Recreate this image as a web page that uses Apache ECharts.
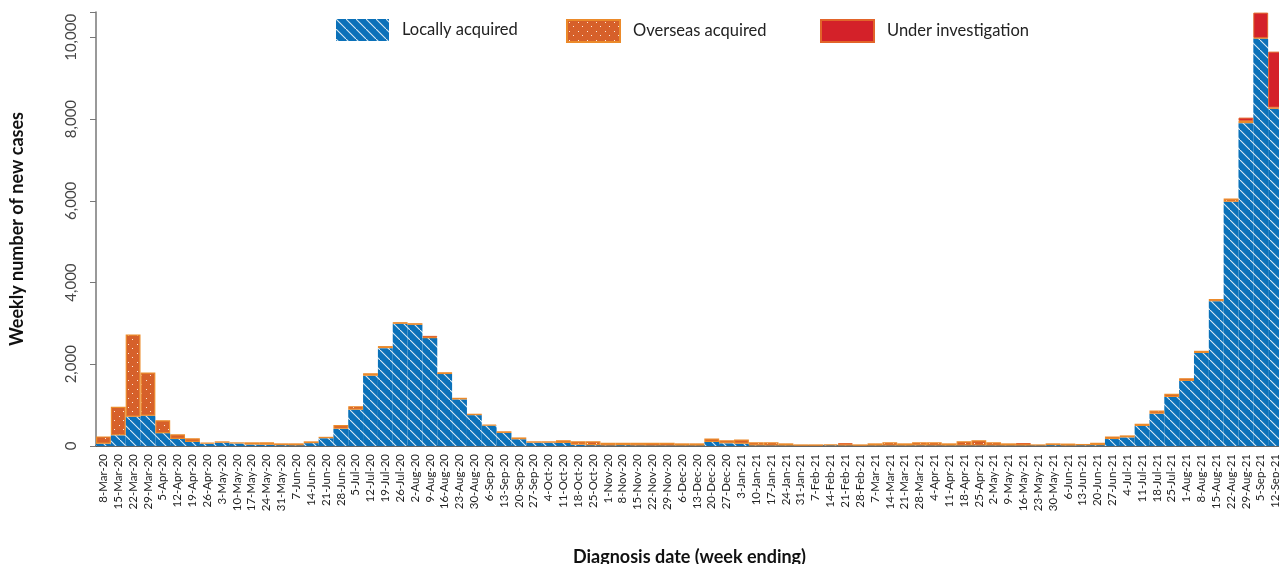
<!DOCTYPE html>
<html>
<head>
<meta charset="utf-8">
<script src="https://cdn.jsdelivr.net/npm/echarts@6/dist/echarts.min.js"></script>
<style>
html,body{margin:0;padding:0;background:#fff;}
#chart{width:1279px;height:564px;}
</style>
</head>
<body>
<div id="chart"></div>
<script>
const categories = [
"8-Mar-20","15-Mar-20","22-Mar-20","29-Mar-20","5-Apr-20","12-Apr-20","19-Apr-20","26-Apr-20",
"3-May-20","10-May-20","17-May-20","24-May-20","31-May-20","7-Jun-20","14-Jun-20","21-Jun-20",
"28-Jun-20","5-Jul-20","12-Jul-20","19-Jul-20","26-Jul-20","2-Aug-20","9-Aug-20","16-Aug-20",
"23-Aug-20","30-Aug-20","6-Sep-20","13-Sep-20","20-Sep-20","27-Sep-20","4-Oct-20","11-Oct-20",
"18-Oct-20","25-Oct-20","1-Nov-20","8-Nov-20","15-Nov-20","22-Nov-20","29-Nov-20","6-Dec-20",
"13-Dec-20","20-Dec-20","27-Dec-20","3-Jan-21","10-Jan-21","17-Jan-21","24-Jan-21","31-Jan-21",
"7-Feb-21","14-Feb-21","21-Feb-21","28-Feb-21","7-Mar-21","14-Mar-21","21-Mar-21","28-Mar-21",
"4-Apr-21","11-Apr-21","18-Apr-21","25-Apr-21","2-May-21","9-May-21","16-May-21","23-May-21",
"30-May-21","6-Jun-21","13-Jun-21","20-Jun-21","27-Jun-21","4-Jul-21","11-Jul-21","18-Jul-21",
"25-Jul-21","1-Aug-21","8-Aug-21","15-Aug-21","22-Aug-21","29-Aug-21","5-Sep-21","12-Sep-21"
];

const locallyAcquired = [
55,260,715,740,315,170,100,55,
80,60,35,30,20,15,70,190,
420,890,1720,2395,2990,2965,2640,1760,
1140,755,500,320,165,80,80,75,
30,20,15,20,15,10,10,10,
10,100,65,55,15,10,10,5,
5,15,10,5,10,10,10,15,
10,10,10,10,10,10,10,10,
20,10,15,20,170,210,490,790,
1200,1590,2275,3540,5975,7900,9970,8250
];

const overseasAcquired = [
180,700,2015,1060,315,115,88,26,
34,30,55,60,45,50,44,35,
95,85,60,50,40,40,20,45,
40,35,25,40,45,35,35,65,
85,95,65,60,65,70,70,55,
55,85,75,105,75,80,55,35,
35,25,35,35,55,80,55,75,
80,55,105,130,80,55,40,30,
45,50,35,60,65,50,55,80,
80,70,55,60,80,55,15,30
];

const underInvestigation = [
null,null,null,null,null,null,null,null,
null,null,null,null,null,null,null,null,
null,null,null,null,null,null,35,null,
null,null,null,null,null,null,null,null,
null,null,null,null,null,null,null,null,
null,null,null,null,null,null,null,null,
null,null,20,null,null,null,null,null,
null,null,null,null,null,null,15,null,
null,null,null,null,null,null,null,null,
null,null,null,null,null,80,620,1370
];

const yTicks = [0, 2000, 4000, 6000, 8000, 10000];

function stripePattern() {
  const s = 10;
  const c = document.createElement('canvas');
  c.width = s; c.height = s;
  const g = c.getContext('2d');
  g.fillStyle = '#0b71b9';
  g.fillRect(0, 0, s, s);
  g.strokeStyle = 'rgba(255,255,255,0.85)';
  g.lineWidth = 1.1;
  g.beginPath();
  g.moveTo(-1, -1); g.lineTo(s + 1, s + 1);
  g.stroke();
  return c;
}
function dotPattern() {
  const s = 9;
  const c = document.createElement('canvas');
  c.width = s; c.height = s;
  const g = c.getContext('2d');
  g.fillStyle = '#d6602a';
  g.fillRect(0, 0, s, s);
  g.fillStyle = 'rgba(255,240,225,0.95)';
  g.fillRect(2, 2, 1, 1);
  g.fillRect(6, 6, 1, 1);
  return c;
}

const chart = echarts.init(document.getElementById('chart'));
const fontFam = 'Lato, "Open Sans", sans-serif';

const legendBase = {
  top: 14, itemWidth: 53, itemHeight: 22, icon: 'rect',
  textStyle: { fontSize: 16.5, color: '#222', fontFamily: fontFam, padding: [0, 0, 0, 8] },
  selectedMode: false
};

chart.setOption({
  animation: false,
  textStyle: { fontFamily: fontFam },
  legend: [
    Object.assign({}, legendBase, { left: 331, data: ['Locally acquired'] }),
    Object.assign({}, legendBase, { left: 561, data: ['Overseas acquired'] }),
    Object.assign({}, legendBase, { left: 815, data: ['Under investigation'] })
  ],
  grid: { left: 96, right: -4, top: 12, bottom: 118, containLabel: false, outerBoundsMode: 'none' },
  xAxis: {
    type: 'category',
    data: categories,
    name: 'Diagnosis date (week ending)',
    nameLocation: 'middle',
    nameGap: 102,
    nameTextStyle: { fontSize: 18, fontWeight: 'bold', color: '#111', fontFamily: fontFam },
    axisLine: { lineStyle: { color: '#333', width: 1.5 } },
    axisTick: { show: false },
    axisLabel: { interval: 0, rotate: 90, fontSize: 11.5, color: '#222', margin: 8, fontFamily: fontFam }
  },
  yAxis: {
    type: 'value',
    min: 0,
    max: 10620,
    interval: 2000,
    name: 'Weekly number of new cases',
    nameLocation: 'middle',
    nameGap: 70,
    nameTextStyle: { fontSize: 18, fontWeight: 'bold', color: '#111', fontFamily: fontFam },
    axisLine: { show: true, lineStyle: { color: '#777', width: 1.5 } },
    axisTick: { show: true, length: 6, lineStyle: { color: '#777' } },
    splitLine: { show: false },
    axisLabel: {
      rotate: 90, fontSize: 15, color: '#444', margin: 17, fontFamily: fontFam,
      customValues: yTicks,
      formatter: v => yTicks.includes(v) ? v.toLocaleString('en-US') : ''
    }
  },
  series: [
    {
      name: 'Locally acquired', type: 'bar', stack: 'c', barCategoryGap: '0%',
      data: locallyAcquired,
      itemStyle: { color: { image: stripePattern(), repeat: 'repeat' }, borderWidth: 0 }
    },
    {
      name: 'Overseas acquired', type: 'bar', stack: 'c', barCategoryGap: '0%',
      data: overseasAcquired,
      itemStyle: { color: { image: dotPattern(), repeat: 'repeat' }, borderColor: '#eb8a2a', borderWidth: 1.2 }
    },
    {
      name: 'Under investigation', type: 'bar', stack: 'c', barCategoryGap: '0%',
      data: underInvestigation,
      itemStyle: { color: '#d42129', borderColor: '#e2642a', borderWidth: 1 }
    }
  ]
});
</script>
</body>
</html>
